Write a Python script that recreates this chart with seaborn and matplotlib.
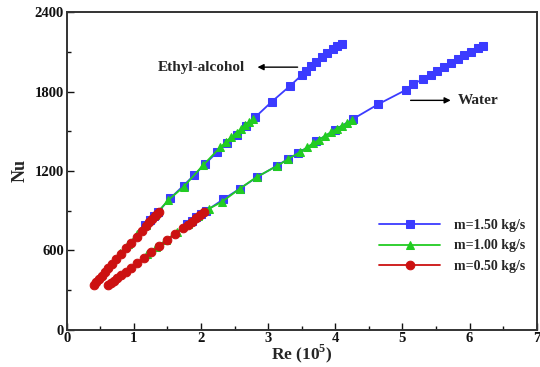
import matplotlib
matplotlib.use("Agg")
import matplotlib.pyplot as plt
from matplotlib.ticker import MultipleLocator
import pandas as pd
import seaborn as sns

# Nusselt number vs Reynolds number (Re in units of 1e5)
# Ethyl-alcohol
eth_re_150 = [1.17, 1.24, 1.30, 1.36, 1.54, 1.74, 1.90, 2.06, 2.24, 2.38, 2.53, 2.67, 2.81,
              3.05, 3.33, 3.50, 3.57, 3.64, 3.72, 3.80, 3.88, 3.96, 4.03, 4.10]
eth_nu_150 = [790, 828, 860, 891, 992, 1090, 1170, 1252, 1343, 1410, 1472, 1540, 1608,
              1722, 1845, 1925, 1958, 1990, 2025, 2060, 2092, 2122, 2146, 2162]
eth_re_100 = [0.80, 0.92, 1.05, 1.18, 1.32, 1.51, 1.74, 2.03, 2.29, 2.37, 2.45, 2.53, 2.60,
              2.66, 2.72, 2.78]
eth_nu_100 = [580, 648, 720, 790, 865, 979, 1079, 1243, 1381, 1418, 1456, 1490, 1520,
              1546, 1572, 1596]
eth_re_050 = [0.40, 0.44, 0.48, 0.52, 0.57, 0.62, 0.68, 0.74, 0.81, 0.88, 0.96, 1.04, 1.12,
              1.18, 1.23, 1.27, 1.31, 1.34, 1.37]
eth_nu_050 = [337, 361, 385, 408, 437, 466, 500, 534, 574, 614, 659, 704, 749,
              783, 811, 834, 857, 874, 891]

# Water
wat_re_150 = [1.79, 1.86, 1.93, 2.00, 2.08, 2.33, 2.58, 2.83, 3.13, 3.30, 3.45, 3.72, 4.00,
              4.27, 4.64, 5.06, 5.16, 5.31, 5.42, 5.52, 5.62, 5.72, 5.82, 5.92, 6.02, 6.12, 6.20]
wat_nu_150 = [800, 825, 850, 875, 900, 985, 1067, 1152, 1240, 1292, 1335, 1425, 1512,
              1595, 1705, 1815, 1860, 1893, 1925, 1955, 1985, 2015, 2045, 2075, 2102, 2128, 2147]
wat_re_100 = [1.20, 1.33, 1.48, 1.64, 1.80, 1.96, 2.12, 2.31, 2.58, 2.83, 3.13, 3.30, 3.48,
              3.58, 3.67, 3.76, 3.85, 3.94, 4.02, 4.10, 4.18, 4.25]
wat_nu_100 = [575, 622, 678, 738, 797, 858, 915, 966, 1067, 1155, 1237, 1290, 1345,
              1378, 1408, 1437, 1466, 1494, 1520, 1540, 1562, 1585]
wat_re_050 = [0.62, 0.66, 0.70, 0.75, 0.81, 0.88, 0.96, 1.05, 1.15, 1.26, 1.38, 1.50, 1.62,
              1.73, 1.80, 1.86, 1.92, 1.98, 2.04]
wat_nu_050 = [337, 353, 369, 389, 412, 439, 470, 505, 544, 587, 633, 679, 726,
              768, 795, 818, 845, 868, 891]

mass_labels = ["m=1.50 kg/s", "m=1.00 kg/s", "m=0.50 kg/s"]
fluids = ["Ethyl-alcohol", "Water"]

series = {
    ("Ethyl-alcohol", mass_labels[0]): (eth_re_150, eth_nu_150),
    ("Ethyl-alcohol", mass_labels[1]): (eth_re_100, eth_nu_100),
    ("Ethyl-alcohol", mass_labels[2]): (eth_re_050, eth_nu_050),
    ("Water", mass_labels[0]): (wat_re_150, wat_nu_150),
    ("Water", mass_labels[1]): (wat_re_100, wat_nu_100),
    ("Water", mass_labels[2]): (wat_re_050, wat_nu_050),
}
frames = []
for (fluid, mass), (re, nu) in series.items():
    frames.append(pd.DataFrame({"Re": re, "Nu": nu, "fluid": fluid, "mass": mass}))
df = pd.concat(frames, ignore_index=True)

sns.set_theme(style="white")
plt.rcParams["font.family"] = ["Liberation Serif", "DejaVu Serif"]
plt.rcParams["font.weight"] = "bold"
plt.rcParams["mathtext.fontset"] = "custom"
plt.rcParams["mathtext.rm"] = "Liberation Serif:bold"

fig = plt.figure(figsize=(5.40, 3.67), dpi=100)
ax = fig.add_axes([0.1235, 0.1016, 0.8705, 0.865])

styles = {
    mass_labels[0]: dict(color="#3b3bff", marker="s", markersize=6.2),
    mass_labels[1]: dict(color="#22cc22", marker="^", markersize=6.0),
    mass_labels[2]: dict(color="#cc1111", marker="o", markersize=6.2),
}

for mass in mass_labels:
    st = styles[mass]
    for i, fluid in enumerate(fluids):
        sub = df[(df["fluid"] == fluid) & (df["mass"] == mass)]
        sns.lineplot(data=sub, x="Re", y="Nu", ax=ax, sort=False, estimator=None,
                     color=st["color"], marker=st["marker"], markersize=st["markersize"],
                     markeredgecolor=st["color"], linewidth=1.3,
                     label=mass if i == 0 else None)

ax.set_xlim(0, 7)
ax.set_ylim(0, 2400)
ax.xaxis.set_major_locator(MultipleLocator(1))
ax.xaxis.set_minor_locator(MultipleLocator(0.5))
ax.yaxis.set_major_locator(MultipleLocator(600))
ax.yaxis.set_minor_locator(MultipleLocator(300))
ax.tick_params(which="both", direction="in", bottom=True, left=True, top=False, right=False,
               labelsize=10.5, colors="#111111", width=1.0)
ax.tick_params(which="major", length=5)
ax.tick_params(which="minor", length=3)
for lab in ax.get_xticklabels() + ax.get_yticklabels():
    lab.set_fontweight("bold")
ax.tick_params(axis="x", pad=2)
ax.tick_params(axis="y", pad=2)

for sp in ax.spines.values():
    sp.set_linewidth(1.4)
    sp.set_color("#333333")

ax.set_xlabel(r"Re (10$^{5}$)", fontsize=12.5, fontweight="bold", labelpad=-2)
ax.set_ylabel("Nu", fontsize=13, fontweight="bold", labelpad=4)

# fluid annotations
ax.text(2.01, 1985, "Ethyl-alcohol", fontsize=11, fontweight="bold", ha="center", va="center")
ax.annotate("", xy=(2.80, 1985), xytext=(3.48, 1985),
            arrowprops=dict(arrowstyle="-|>", color="black", lw=1.0, mutation_scale=9))
ax.text(5.82, 1734, "Water", fontsize=11, fontweight="bold", ha="left", va="center")
ax.annotate("", xy=(5.76, 1734), xytext=(5.08, 1734),
            arrowprops=dict(arrowstyle="-|>", color="black", lw=1.0, mutation_scale=9))

leg = ax.legend(loc="center left", bbox_to_anchor=(0.638, 0.264), frameon=False,
                handlelength=4.4, handletextpad=1.0, labelspacing=0.55,
                prop={"family": "Liberation Serif", "weight": "bold", "size": 10})

fig.savefig("out.png", dpi=100)
